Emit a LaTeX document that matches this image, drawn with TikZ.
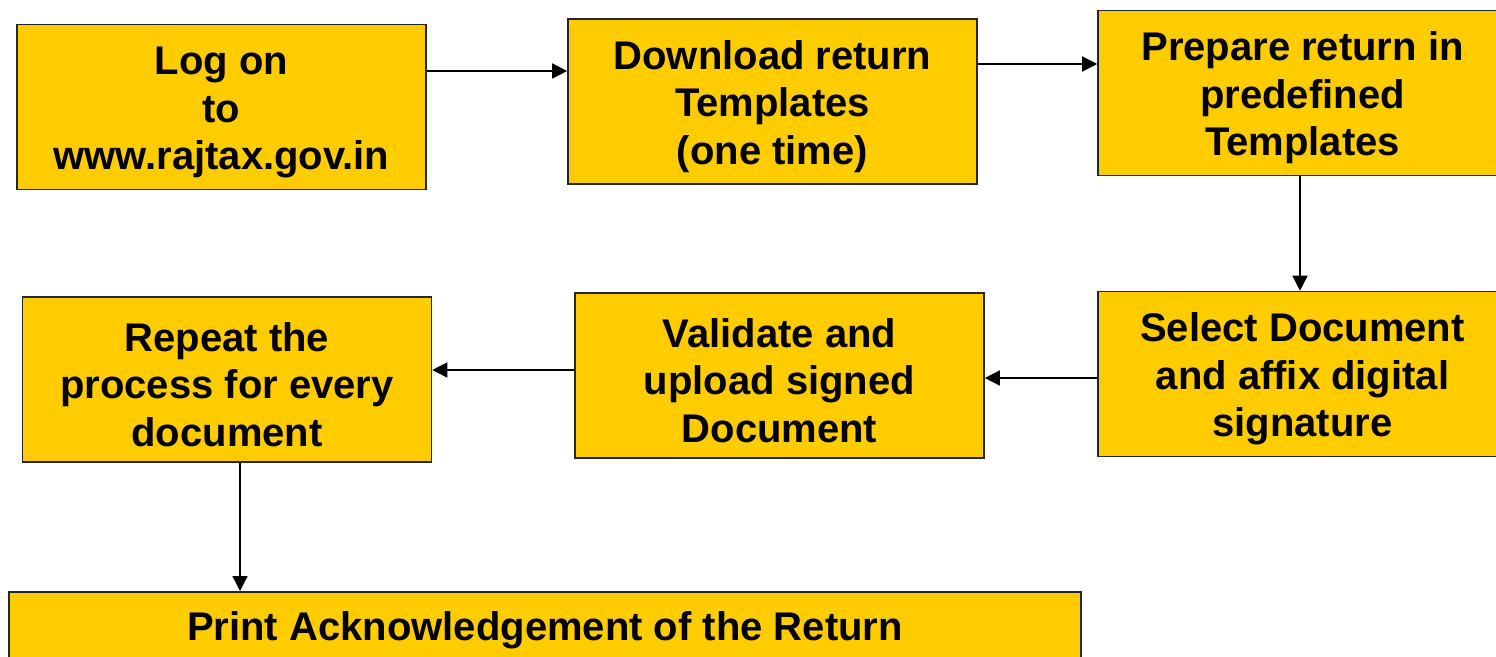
\documentclass[tikz,border=0pt]{standalone}
\usepackage{fontspec}
\setmainfont{Liberation Sans}
\usepackage{tikz}
\usetikzlibrary{arrows.meta,positioning}
\definecolor{boxyellow}{HTML}{FFCC00}

\begin{document}
\begin{tikzpicture}[
		x=1pt,y=-1pt,
		font=\bfseries\fontsize{40}{47.5}\selectfont,
		stepbox/.style={draw=black!85,line width=1.6pt,fill=boxyellow,minimum width=409pt,minimum height=165pt,inner sep=0pt,align=center,text height=134pt},
		oneway/.style={-{Triangle[length=15pt,width=15pt]},line width=1.4pt},
		scale=1]
		\useasboundingbox (0,0) rectangle (1496,656);
		
		% Draw boxes
		\node[stepbox] (logon) at (221.5,107) {Log on\\to\\www.rajtax.gov.in};
		\node[stepbox] (download) at (772.5,101.5) {Download return\\Templates\\(one time)};
		\node[stepbox] (prepare) at (1302.5,93) {Prepare return in\\predefined\\Templates};
		\node[stepbox] (select) at (1302.5,374) {Select Document\\and affix digital\\signature};
		\node[stepbox] (validate) at (779.5,375.5) {Validate and\\upload signed\\Document};
		\node[stepbox] (repeat) at (227,379.5) {Repeat the\\process for every\\document};
		\node[stepbox,minimum width=1072pt,text height=49pt,text depth=116pt,anchor=north] (print) at (545,591) {Print Acknowledgement of the Return};
		
		% Draw arrows
		\draw[oneway] ([yshift=36pt]logon.east) -- ([yshift=36pt]logon.east -| download.west);
		\draw[oneway] ([yshift=37.5pt]download.east) -- ([yshift=37.5pt]download.east -| prepare.west);
		\draw[oneway] ([xshift=-2.5pt]prepare.south) -- ([xshift=-2.5pt]select.north);
		\draw[oneway] ([yshift=-4pt]select.west) -- ([yshift=-4pt]select.west -| validate.east);
		\draw[oneway] ([yshift=5.5pt]validate.west) -- ([yshift=5.5pt]validate.west -| repeat.east);
		\draw[oneway] ([xshift=13pt]repeat.south) -- ([xshift=13pt]repeat.south |- print.north);
		
\end{tikzpicture}
\end{document}
